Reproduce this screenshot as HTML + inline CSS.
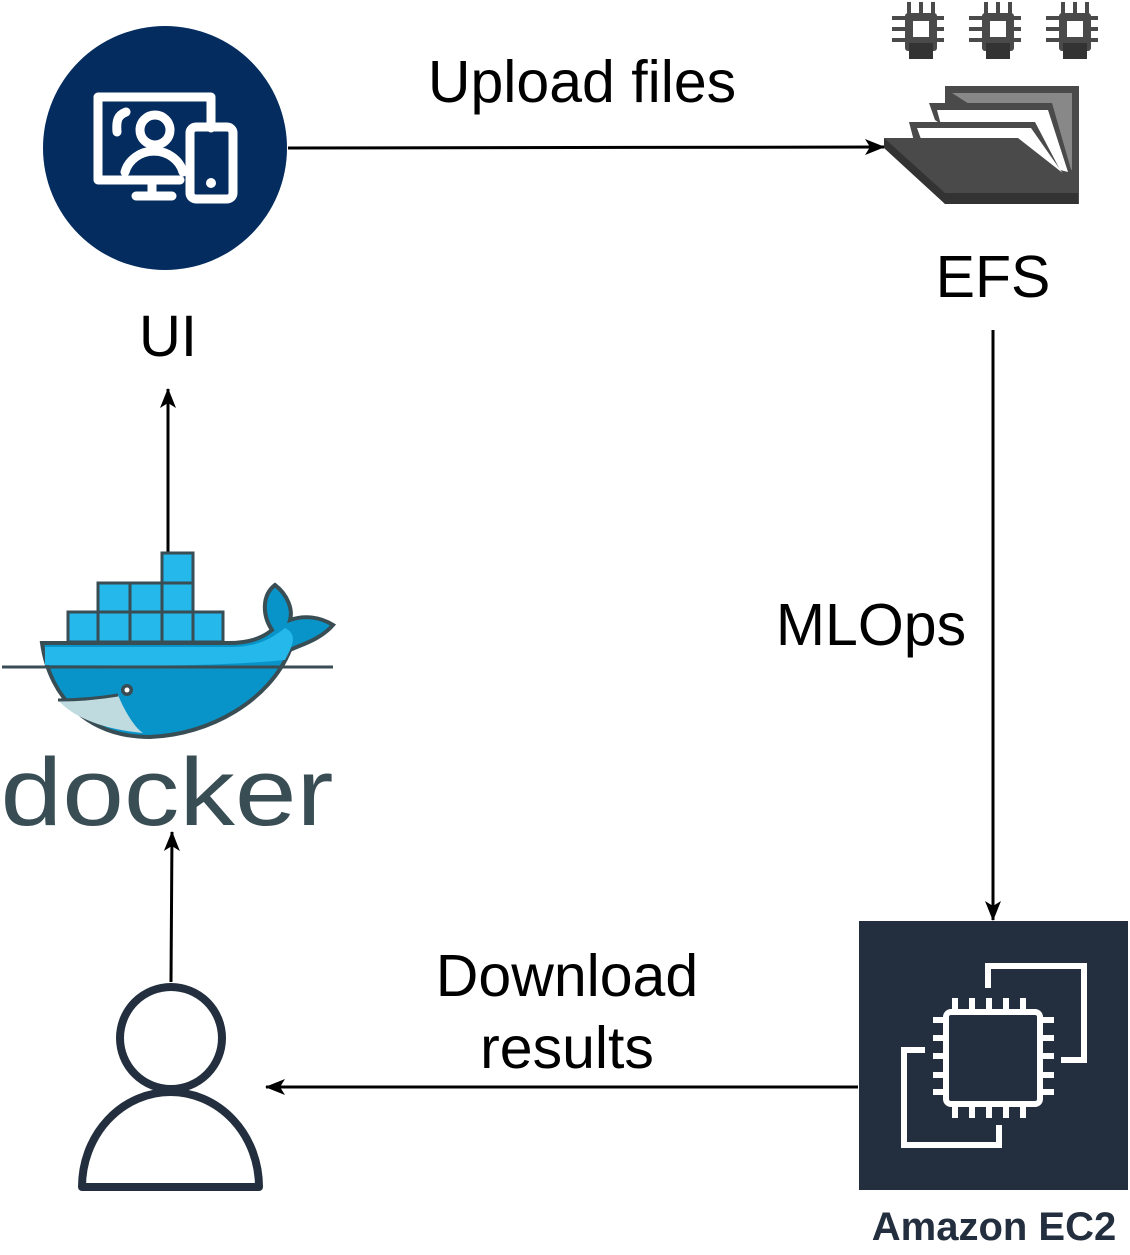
<!DOCTYPE html>
<html><head><meta charset="utf-8"><style>
html,body{margin:0;padding:0;background:#fff;}
svg{display:block;}
text{font-family:"Liberation Sans",Arial,sans-serif;}
</style></head><body>
<svg width="1130" height="1255" viewBox="0 0 1130 1255" xmlns="http://www.w3.org/2000/svg">
<defs>
<marker id="ah" markerWidth="20" markerHeight="16" refX="19" refY="8" orient="auto" markerUnits="userSpaceOnUse" viewBox="0 0 20 16">
<path d="M0,0 L20,8 L0,16 L5,8 Z" fill="#000"/>
</marker>
</defs>

<!-- UI -->
<circle cx="165" cy="148" r="122" fill="#052c5e"/>
<g fill="none" stroke="#fff" stroke-width="9" stroke-linecap="round" stroke-linejoin="round">
<path d="M180,180 H98 V97 H211 V128"/>
<path d="M152,180 V196 M136,196 H172"/>
<rect x="190" y="127" width="43" height="72" rx="6"/>
<circle cx="155" cy="130" r="15"/>
<path d="M125,172 A30,28 0 0 1 183,172"/>
<path d="M117,132 C116,120 118,115 126,112"/>
</g>
<circle cx="211" cy="183" r="5" fill="#fff"/>
<text x="168" y="356" font-size="58" text-anchor="middle">UI</text>

<!-- Upload arrow -->
<line x1="288" y1="148" x2="884" y2="147" stroke="#000" stroke-width="3" marker-end="url(#ah)"/>
<text x="582" y="102" font-size="59" text-anchor="middle">Upload files</text>

<!-- EFS chips -->
<g fill="#4a4a4a">
<g id="chip">
<rect x="905" y="13" width="32" height="38" rx="3"/>
<rect x="907" y="2" width="4" height="12"/><rect x="919" y="2" width="4" height="12"/><rect x="931" y="2" width="4" height="12"/>
<rect x="892" y="16" width="52" height="4"/><rect x="892" y="27" width="52" height="4"/><rect x="892" y="38" width="52" height="4"/>
<rect x="909" y="43" width="24" height="16" fill="#333"/>
<rect x="913" y="21" width="16" height="16" fill="#fff"/>
</g>
<use href="#chip" x="77"/>
<use href="#chip" x="154"/>
</g>
<!-- folder -->
<rect x="945" y="86" width="134" height="118" fill="#4a4a4a"/>
<path d="M952,93 H1072 V170 Z" fill="#888"/>
<path d="M929,103 H1052 L1074,180 L1020,180 L935,120 Z" fill="#4a4a4a"/>
<path d="M937,110 H1048 L1068,172 L945,140 Z" fill="#fff"/>
<path d="M909,122 H1035 L1068,185 L915,145 Z" fill="#4a4a4a"/>
<path d="M917,128 H1031 L1066,178 L925,150 Z" fill="#fff"/>
<path d="M884,138 H1018 L1078,185 V204 H945 Z" fill="#4a4a4a"/>
<path d="M884,138 L945,193 H1078 V204 H945 L884,148 Z" fill="#333"/>
<text x="993" y="297" font-size="59" text-anchor="middle">EFS</text>

<!-- MLOps arrow -->
<line x1="993" y1="330" x2="993" y2="920" stroke="#000" stroke-width="3" marker-end="url(#ah)"/>
<text x="871" y="645" font-size="59" text-anchor="middle">MLOps</text>

<!-- EC2 -->
<rect x="859" y="921" width="269" height="269" fill="#232f3e"/>
<g fill="none" stroke="#fff" stroke-width="6">
<path d="M988,988 V966 H1084 V1060 H1061"/>
<path d="M925,1050 H904 V1145 H999 V1125"/>
<rect x="946" y="1012" width="94" height="92" rx="5"/>
<path d="M955,998 V1012 M972,998 V1012 M989,998 V1012 M1006,998 V1012 M1023,998 V1012"/>
<path d="M955,1104 V1118 M972,1104 V1118 M989,1104 V1118 M1006,1104 V1118 M1023,1104 V1118"/>
<path d="M933,1020 H946 M933,1038 H946 M933,1056 H946 M933,1075 H946 M933,1092 H946"/>
<path d="M1040,1020 H1054 M1040,1038 H1054 M1040,1056 H1054 M1040,1075 H1054 M1040,1092 H1054"/>
</g>
<text x="994" y="1240" font-size="40" font-weight="bold" fill="#232f3e" text-anchor="middle">Amazon EC2</text>

<!-- Download arrow -->
<line x1="858" y1="1087" x2="266" y2="1087" stroke="#000" stroke-width="3" marker-end="url(#ah)"/>
<text x="567" y="996" font-size="59" text-anchor="middle">Download</text>
<text x="567" y="1068" font-size="59" text-anchor="middle">results</text>

<!-- person -->
<g fill="none" stroke="#232f3e" stroke-width="8" stroke-linejoin="round">
<circle cx="171" cy="1038" r="51"/>
<path d="M82,1187 A88.5,95 0 0 1 259,1187 Z"/>
</g>

<!-- person to docker -->
<line x1="171" y1="982" x2="172" y2="832" stroke="#000" stroke-width="3" marker-end="url(#ah)"/>
<!-- docker to UI -->
<line x1="168" y1="554" x2="168" y2="389" stroke="#000" stroke-width="3" marker-end="url(#ah)"/>

<!-- docker whale -->
<g stroke="#394d54" stroke-width="3">
<rect x="162" y="553" width="31" height="30" fill="#24b8eb"/>
<rect x="98" y="583" width="32" height="29" fill="#24b8eb"/>
<rect x="130" y="583" width="32" height="29" fill="#24b8eb"/>
<rect x="162" y="583" width="31" height="29" fill="#24b8eb"/>
<rect x="68" y="612" width="30" height="30" fill="#24b8eb"/>
<rect x="98" y="612" width="32" height="30" fill="#24b8eb"/>
<rect x="130" y="612" width="32" height="30" fill="#24b8eb"/>
<rect x="162" y="612" width="31" height="30" fill="#24b8eb"/>
<rect x="193" y="612" width="30" height="30" fill="#24b8eb"/>
</g>
<path d="M42,643 H228 C250,643 262,638 272,630 C262,615 262,595 275,585 C288,595 293,610 290,620 C305,615 320,617 333,625 C320,640 300,645 290,650 C270,700 210,735 150,737 C90,737 50,700 42,643 Z" fill="#0894c8" stroke="#394d54" stroke-width="4"/>
<path d="M45,647 H230 C255,647 270,640 285,628 C300,635 290,650 285,660 C200,668 120,665 45,665 Z" fill="#24b8eb"/>
<path d="M58,700 C80,700 100,698 118,695 C125,712 135,728 143,733 C110,730 75,720 58,700 Z" fill="#bfdbe0"/>
<path d="M58,700 C80,700 100,698 118,695" fill="none" stroke="#394d54" stroke-width="3"/>
<line x1="2" y1="667" x2="333" y2="667" stroke="#394d54" stroke-width="3"/>
<circle cx="127" cy="690" r="6" fill="#394d54"/><circle cx="127" cy="690" r="2.5" fill="#fff"/>
<text x="167" y="825" font-size="96" fill="#394d54" text-anchor="middle" textLength="333" lengthAdjust="spacingAndGlyphs">docker</text>
</svg>
</body></html>
